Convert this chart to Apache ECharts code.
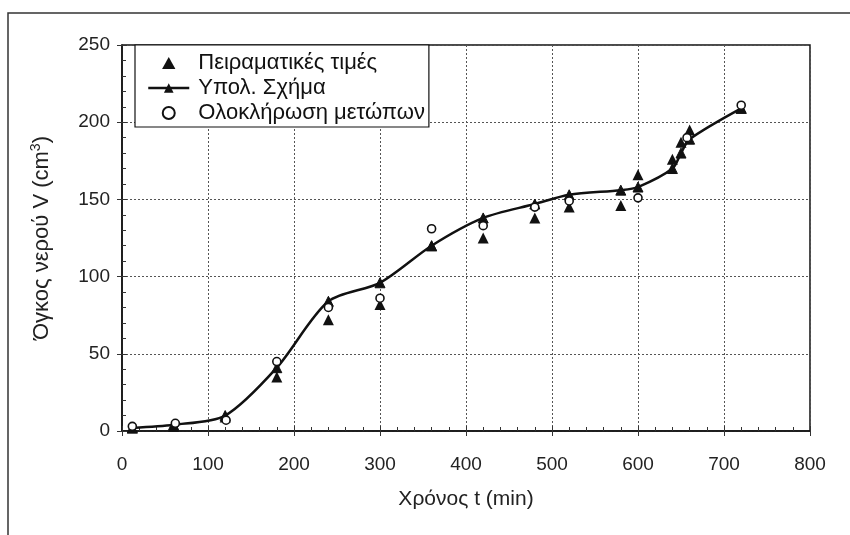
<!DOCTYPE html>
<html>
<head>
<meta charset="utf-8">
<script src="https://cdn.jsdelivr.net/npm/echarts@6/dist/echarts.min.js"></script>
<style>html,body{margin:0;padding:0;background:#fff}#c{width:850px;height:535px}</style>
</head>
<body>
<div id="c"></div>
<script>
var seriesNames = ['Πειραματικές τιμές', 'Υπολ. Σχήμα', 'Ολοκλήρωση μετώπων'];
var expT = [12, 60, 120, 180, 240, 300, 360, 420, 480, 520, 580, 600, 640, 650, 660, 720];
var expV = [2, 3, 9, 35, 72, 82, 120, 125, 138, 145, 146, 166, 176, 187, 195, 209];
var calcT = [12, 60, 120, 180, 240, 300, 360, 420, 480, 520, 580, 600, 640, 650, 660, 720];
var calcV = [2, 4, 10, 41, 84, 96, 120, 138, 147, 153, 156, 158, 170, 180, 189, 209];
var frontT = [12, 62, 121, 180, 240, 300, 360, 420, 480, 520, 600, 657, 720];
var frontV = [3, 5, 7, 45, 80, 86, 131, 133, 145, 149, 151, 190, 211];
var xTicks = [0, 100, 200, 300, 400, 500, 600, 700, 800];
var yTicks = [0, 50, 100, 150, 200, 250];

function zip(a, b) { return a.map(function (v, i) { return [v, b[i]]; }); }

var font = 'Liberation Sans, Arial, sans-serif';
var chart = echarts.init(document.getElementById('c'), null, {renderer: 'canvas'});
chart.setOption({
  animation: false,
  backgroundColor: '#fff',
  textStyle: {fontFamily: font},
  graphic: [{
    type: 'polyline', silent: true,
    shape: {points: [[8, 535], [8, 13], [850, 13]]},
    style: {fill: 'none', stroke: '#333', lineWidth: 1.5}
  }],
  grid: {left: 122, right: 40, top: 45, bottom: 104, show: true, borderColor: '#111', borderWidth: 1.5},
  legend: {
    orient: 'vertical', left: 135, top: 45, itemGap: 3, itemWidth: 41, itemHeight: 12,
    padding: [7, 4, 3, 12], borderColor: '#111', borderWidth: 1.2, backgroundColor: '#fff',
    textStyle: {fontSize: 22, color: '#111', fontFamily: font, padding: [0, 0, 0, 4]},
    data: [
      {name: seriesNames[0], icon: 'path://M5,0L10,9L0,9Z'},
      {name: seriesNames[1], lineStyle: {width: 2.5, color: '#111'}},
      {name: seriesNames[2], icon: 'path://M10,5A5,5,0,1,1,0,5A5,5,0,1,1,10,5Z'}
    ]
  },
  xAxis: [{
    type: 'value', min: 0, max: 800, interval: 100, position: 'bottom',
    axisLine: {show: true, lineStyle: {color: '#111', width: 1.5}},
    axisTick: {show: true, inside: true, length: 5, lineStyle: {color: '#333'}},
    minorTick: {show: true, splitNumber: 5, length: 4, lineStyle: {color: '#333'}},
    axisLabel: {fontSize: 19, color: '#222', margin: 24, fontFamily: font},
    splitLine: {show: true, lineStyle: {color: '#555', type: [2, 2], width: 1}},
    name: 'Χρόνος t (min)', nameLocation: 'middle', nameGap: 58,
    nameTextStyle: {fontSize: 21, color: '#222', fontFamily: font}
  }, {
    type: 'value', min: 0, max: 800, interval: 100, position: 'bottom',
    axisLine: {show: false}, axisLabel: {show: false}, splitLine: {show: false},
    axisTick: {show: true, inside: false, length: 5, lineStyle: {color: '#333'}}
  }],
  yAxis: [{
    type: 'value', min: 0, max: 250, interval: 50, position: 'left',
    axisLine: {show: true, lineStyle: {color: '#111', width: 1.5}},
    axisTick: {show: true, inside: true, length: 5, lineStyle: {color: '#333'}},
    minorTick: {show: true, splitNumber: 5, length: 4, lineStyle: {color: '#333'}},
    axisLabel: {fontSize: 19, color: '#222', margin: 12, fontFamily: font},
    splitLine: {show: true, lineStyle: {color: '#555', type: [2, 2], width: 1}},
    name: 'Όγκος νερού V (cm{s|3})', nameLocation: 'middle', nameGap: 67,
    nameTextStyle: {
      fontSize: 22, color: '#222', fontFamily: font,
      rich: {s: {fontSize: 14, color: '#222', fontFamily: font, verticalAlign: 'top', padding: [0, 0, 12, 0]}}
    }
  }, {
    type: 'value', min: 0, max: 250, interval: 50, position: 'left',
    axisLine: {show: false}, axisLabel: {show: false}, splitLine: {show: false},
    axisTick: {show: true, inside: false, length: 5, lineStyle: {color: '#333'}}
  }],
  series: [{
    name: seriesNames[1], type: 'line', smooth: 0.28, data: zip(calcT, calcV),
    symbol: 'triangle', symbolSize: 10, showAllSymbol: true,
    lineStyle: {color: '#111', width: 2.5},
    itemStyle: {color: '#111', borderColor: '#111', opacity: 1},
    z: 2
  }, {
    name: seriesNames[0], type: 'scatter', data: zip(expT, expV),
    symbol: 'triangle', symbolSize: 11,
    itemStyle: {color: '#111', opacity: 1}, z: 3
  }, {
    name: seriesNames[2], type: 'scatter', data: zip(frontT, frontV),
    symbol: 'circle', symbolSize: 8,
    itemStyle: {color: '#fff', borderColor: '#111', borderWidth: 1.6, opacity: 1}, z: 4
  }]
});
</script>
</body>
</html>
